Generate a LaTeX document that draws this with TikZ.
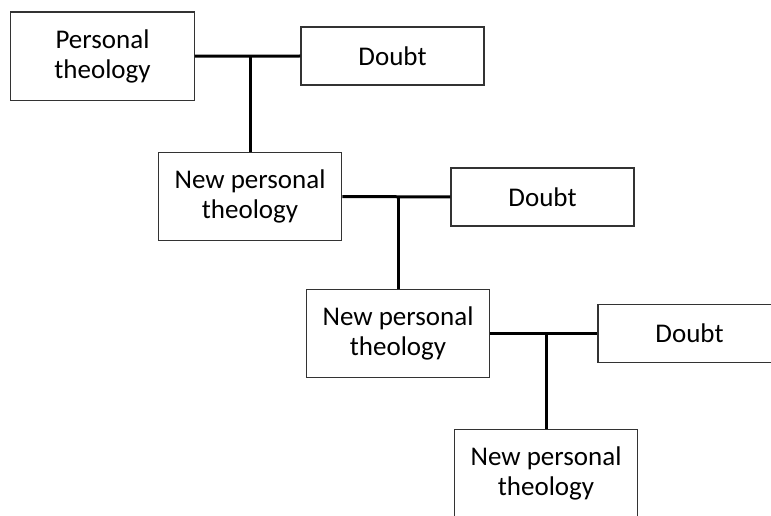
\documentclass[tikz,border=0pt]{standalone}
\usepackage{fontspec}
\setmainfont{Carlito}
\begin{document}
\begin{tikzpicture}[x=1pt,y=-1pt,
  box/.style={draw=black!80, line width=1.2pt, fill=white, align=center,
    inner sep=0pt, font=\fontsize{27}{30}\selectfont},
  theory/.style={box, minimum width=183.5pt, minimum height=88.5pt},
  doubtbox/.style={box, minimum width=183pt, minimum height=58pt},
  link/.style={draw=black, line width=3pt}]
\useasboundingbox (0,0) rectangle (771,516);
\clip (0,0) rectangle (771,516);
\fill[white] (0,0) rectangle (771,516);

% theology boxes down the diagonal
\node[theory] (t1) at (102.5,56.2) {Personal\\theology};
\node[theory] (t2) at (250,196.5) {New personal\\theology};
\node[theory] (t3) at (398,333.5) {New personal\\theology};
\node[theory] (t4) at (546,473.5) {New personal\\theology};

% doubt boxes to the right of each theology
\node[doubtbox] (d1) at (392.5,56) {Doubt};
\node[doubtbox] (d2) at (542.5,197) {Doubt};
\node[doubtbox] (d3) at (689.5,333.5) {Doubt};

% T-shaped links: theology -- doubt, branching down to the next theology
\path[link] (t1.east) -- (d1.west);
\path[link] (t2.north) -- (t2.north |- t1.east);
\path[link] (t2.east) -- (d2.west);
\path[link] (t3.north) -- (t3.north |- t2.east);
\path[link] (t3.east) -- (d3.west);
\path[link] (t4.north) -- (t4.north |- t3.east);
\end{tikzpicture}
\end{document}
